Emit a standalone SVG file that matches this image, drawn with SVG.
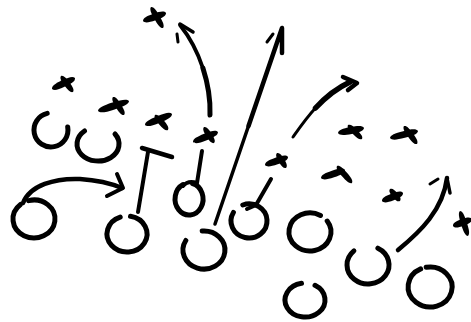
<svg xmlns="http://www.w3.org/2000/svg" xmlns:xlink="http://www.w3.org/1999/xlink" width="471" height="322" viewBox="0 0 471 322">
<style>
.o{fill:none;stroke:#000;stroke-width:5;stroke-linecap:round;stroke-linejoin:round}
.l{fill:#000;stroke:none}
.r{fill:none;stroke:#000;stroke-width:4;stroke-linecap:round;stroke-linejoin:round}
.t{fill:none;stroke:#000;stroke-width:3;stroke-linecap:round}
</style>
<defs>
<path id="lens" d="M0,0 C0.04,-0.5 0.2,-0.62 0.5,-0.62 C0.8,-0.62 0.96,-0.5 1,0 C0.96,0.5 0.8,0.62 0.5,0.62 C0.2,0.62 0.04,0.5 0,0Z"/>
</defs>
<rect width="471" height="322" fill="#fff"/>
<g id="defense">
<g id="x1"><use class="l" href="#lens" xlink:href="#lens" transform="translate(143,21) rotate(-19.2) scale(24.4,5.6)"/><use class="l" href="#lens" xlink:href="#lens" transform="translate(151,7) rotate(60.3) scale(24.2,4.8)"/></g>
<g id="x2"><use class="l" href="#lens" xlink:href="#lens" transform="translate(52,89) rotate(-25.6) scale(25.5,5.6)"/><use class="l" href="#lens" xlink:href="#lens" transform="translate(61,76) rotate(53.1) scale(20,4.8)"/></g>
<g id="x3"><use class="l" href="#lens" xlink:href="#lens" transform="translate(98,111) rotate(-17.9) scale(32.6,5.8)"/><use class="l" href="#lens" xlink:href="#lens" transform="translate(113,97) rotate(58.6) scale(21.1,4.8)"/></g>
<g id="x4"><use class="l" href="#lens" xlink:href="#lens" transform="translate(145,125) rotate(-22.2) scale(29.2,5.6)"/><use class="l" href="#lens" xlink:href="#lens" transform="translate(155,115) rotate(49.1) scale(19.8,4.8)"/></g>
<g id="x5"><use class="l" href="#lens" xlink:href="#lens" transform="translate(193,142) rotate(-21.8) scale(26.9,5.6)"/><use class="l" href="#lens" xlink:href="#lens" transform="translate(204,127) rotate(58) scale(18.9,4.8)"/></g>
<g id="x6"><use class="l" href="#lens" xlink:href="#lens" transform="translate(338,133) rotate(-10.9) scale(26.5,5.6)"/><use class="l" href="#lens" xlink:href="#lens" transform="translate(348,125) rotate(45) scale(19.8,4.8)"/></g>
<g id="x7"><use class="l" href="#lens" xlink:href="#lens" transform="translate(390,138) rotate(-14) scale(28.9,5.6)"/><use class="l" href="#lens" xlink:href="#lens" transform="translate(404,126) rotate(54.2) scale(22.2,4.8)"/></g>
<g id="x8"><use class="l" href="#lens" xlink:href="#lens" transform="translate(265,165) rotate(-19.2) scale(24.4,5.6)"/><use class="l" href="#lens" xlink:href="#lens" transform="translate(277,153) rotate(59) scale(17.5,4.8)"/></g>
<g id="x9"><use class="l" href="#lens" xlink:href="#lens" transform="translate(321,178) rotate(-18.4) scale(25.3,5.6)"/><use class="l" href="#lens" xlink:href="#lens" transform="translate(337,166) rotate(48.6) scale(22.7,4.8)"/></g>
<g id="x10"><use class="l" href="#lens" xlink:href="#lens" transform="translate(382,201) rotate(-20.9) scale(22.5,5.6)"/><use class="l" href="#lens" xlink:href="#lens" transform="translate(390,189) rotate(50.2) scale(15.6,4.8)"/></g>
<g id="x11"><use class="l" href="#lens" xlink:href="#lens" transform="translate(453,226) rotate(-20.2) scale(20.2,5.6)"/><use class="l" href="#lens" xlink:href="#lens" transform="translate(460,211) rotate(72.3) scale(26.2,4.8)"/></g>
</g>
<g id="offense">
<path id="o1" class="o" d="M28.6,200.6 A21,19 0 1 1 20.5,204.4"/>
<path id="o2" class="o" d="M130.5,216.3 A20,18 0 1 1 120.2,217.1"/>
<path id="o3" class="o" d="M192.6,183.5 A14,16 0 1 1 183.1,184.5"/>
<path id="o4" class="o" d="M202.2,231.1 A21,19 0 1 1 185.8,240.5"/>
<path id="o5" class="o" d="M242.8,205 A18,17 0 1 1 233.4,212.5"/>
<path id="o6" class="o" d="M327.2,221.1 A21,19 0 1 1 320.5,215.5"/>
<path id="o7" class="o" d="M377.9,248.2 A21,19 0 1 1 353.9,250.9"/>
<path id="o8" class="o" d="M315,285.3 A20,17 0 1 1 301.5,283.3"/>
<path id="o9" class="o" d="M426.2,267.3 A22,20 0 1 1 420.7,268.9"/>
<path id="o10" class="o" d="M67.7,127 A17,17 0 1 1 47.2,113.4"/>
<path id="o11" class="o" d="M115,134 A21,17 0 1 1 84.5,131"/>
</g>
<g id="routes">
<path class="r" style="stroke-width:4.5" d="M23,203 C30,185 55,178 80,179 C95,180 110,183 122,188"/>
<path class="r" d="M117,174 L123,188 L107,196"/>
<path class="r" d="M138,212 L148,152"/>
<path class="r" style="stroke-width:4.5" d="M142,148 L172,157"/>
<path class="r" d="M183,186 Q188,180 197,183 L202,151"/>
<path class="r" style="stroke-width:5" d="M210,115 C210.5,100 208,83.75 202.9,68.1"/>
<path class="r" style="stroke-width:3.8" d="M202.9,68.1 C197.75,52.5 190,37.5 180,25"/>
<path class="r" style="stroke-width:3.5" d="M180,24 L193,32"/>
<path class="t" d="M177,34 L178,42"/>
<path class="r" style="stroke-width:3.5" d="M215,224 L248.5,126"/>
<path class="r" style="stroke-width:4.5" d="M248.5,126 L282,28 L282,53"/>
<path class="t" d="M267,42 L273,34"/>
<path class="r" d="M247,209 L256,205 L271,179"/>
<path class="r" style="stroke-width:3" d="M293,137 C299,128.5 306.25,118 315.5,108"/>
<path class="r" style="stroke-width:5.5" d="M315.5,108 C324.75,98 336,88.5 350,82"/>
<path class="r" style="stroke-width:4.5" d="M343,77 L357,83 L348,90"/>
<path class="r" style="stroke-width:4.5" d="M398,250 C420,232 443,210 447,178"/>
<path class="r" style="stroke-width:3.5" d="M447,178 L450,193"/>
<path class="t" d="M430,184 L438,179"/>
</g>
</svg>
